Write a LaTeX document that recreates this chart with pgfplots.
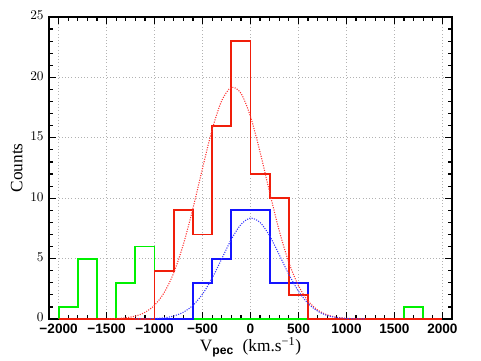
\documentclass[border=0pt]{standalone}
\usepackage{fontspec}
\setmainfont{Liberation Serif}
\setsansfont{Liberation Sans}
\usepackage{pgfplots}
\pgfplotsset{compat=1.18}

\definecolor{histred}{RGB}{240, 30, 10}
\definecolor{histgreen}{RGB}{0, 240, 0}
\definecolor{histblue}{RGB}{20, 20, 255}

\begin{document}
\begin{tikzpicture}
\begin{axis}[
    scale only axis,
    width=302.25pt,
    height=226.5pt,
    xmin=-2100, xmax=2100,
    ymin=0, ymax=25,
    xtick={-2000,-1500,...,2000},
    xticklabels={−2000,−1500,−1000,−500,0,500,1000,1500,2000},
    ytick={0,5,...,25},
    minor x tick num=4,
    minor y tick num=4,
    tick align=inside,
    tick pos=both,
    major tick length=5pt,
    minor tick length=3pt,
    every tick/.style={black, line width=0.9pt},
    axis line style={line width=1.1pt},
    xmajorgrids, ymajorgrids,
    grid style={dotted, gray!60, line width=0.5pt},
    tick label style={font=\sffamily\bfseries\fontsize{10.2}{12}\selectfont},
    xticklabel style={yshift=-0.5pt},
    yticklabel style={xshift=-0.5pt, yshift=1pt},
    xlabel={V\textsubscript{\bfseries\sffamily pec}\ \ (km.s\textsuperscript{−1})},
    ylabel={Counts},
    label style={font=\fontsize{13}{15}\selectfont},
    xlabel style={yshift=4pt},
    ylabel style={yshift=-1pt},
    clip=true,
]

% green histogram
\addplot[const plot mark left, color=histgreen, line width=1.4pt] coordinates {
    (-2000,0) (-2000,1) (-1800,5) (-1600,0) (-1400,3) (-1200,6) (-1000,0)
    (1600,1) (1800,0) (2000,0)
};

% blue histogram
\addplot[const plot mark left, color=histblue, line width=1.4pt] coordinates {
    (-2000,0) (-600,3) (-400,5) (-200,9) (0,9) (200,3) (400,3) (600,0) (2000,0)
};

% red histogram
\addplot[const plot mark left, color=histred, line width=1.4pt] coordinates {
    (-2000,0) (-1000,4) (-800,9) (-600,7) (-400,16) (-200,23) (0,12)
    (200,10) (400,2) (600,0) (2000,0)
};

% red gaussian fit
\addplot[smooth, color=red!80, densely dotted, line width=0.8pt] coordinates {
    (-1500,0.013) (-1400,0.037) (-1300,0.099) (-1200,0.24) (-1100,0.55)
    (-1000,1.14) (-900,2.18) (-800,3.82) (-700,6.17) (-600,9.15)
    (-500,12.48) (-400,15.67) (-300,18.07) (-200,19.17) (-100,18.69)
    (0,16.76) (100,13.81) (200,10.47) (300,7.29) (400,4.67) (500,2.75)
    (600,1.49) (700,0.74) (800,0.34) (900,0.14) (1000,0.055) (1100,0.02)
    (1200,0.007)
};

% blue gaussian fit
\addplot[smooth, color=histblue!85, densely dotted, line width=0.8pt] coordinates {
    (-1200,0.003) (-1100,0.011) (-1000,0.035) (-900,0.097) (-800,0.25)
    (-700,0.56) (-600,1.13) (-500,2.06) (-400,3.38) (-300,4.98)
    (-200,6.59) (-100,7.82) (0,8.35) (100,7.99) (200,6.88) (300,5.31)
    (400,3.69) (500,2.30) (600,1.29) (700,0.65) (800,0.29) (900,0.12)
    (1000,0.043) (1100,0.014) (1200,0.004)
};

\end{axis}
\pgfresetboundingbox
\useasboundingbox ([xshift=-36.75pt,yshift=-30.75pt]current axis.south west)
    rectangle ([xshift=21.75pt,yshift=12.75pt]current axis.north east);
\end{tikzpicture}
\end{document}
